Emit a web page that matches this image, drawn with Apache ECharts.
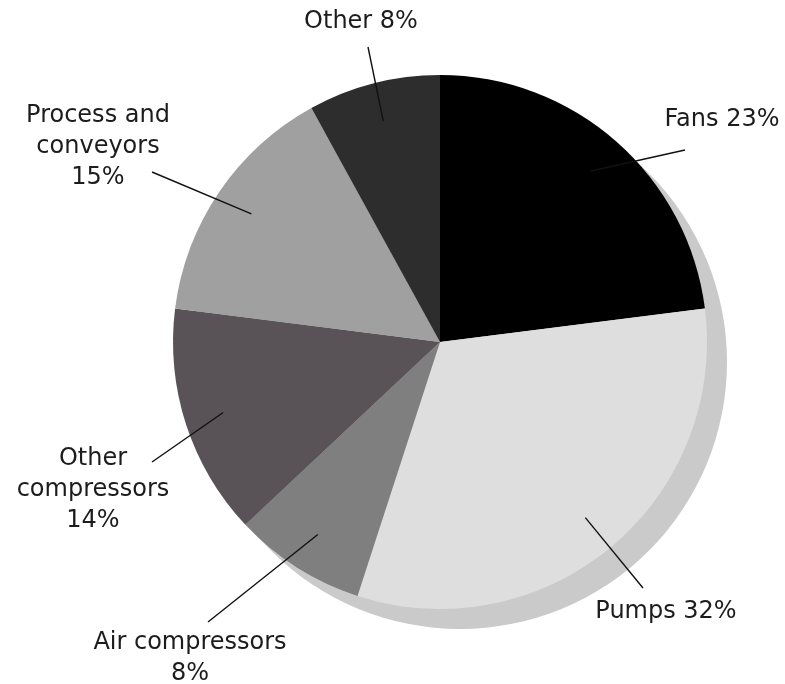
<!DOCTYPE html>
<html>
<head>
<meta charset="utf-8">
<script src="https://cdn.jsdelivr.net/npm/echarts@6/dist/echarts.min.js"></script>
<style>
  html, body { margin: 0; padding: 0; background: #fff; }
  #chart { width: 785px; height: 684px; }
</style>
</head>
<body>
<div id="chart"></div>
<script>
// motor energy use by end use, clockwise from 12 o'clock
const categories = ['Fans', 'Pumps', 'Air compressors', 'Other\ncompressors', 'Process and\nconveyors', 'Other'];
const shares = [23, 32, 8, 14, 15, 8];

// look of the slices (kept apart from the data)
const sliceColors = ['#000000', '#dedede', '#7f7f7f', '#595357', '#a0a0a0', '#2d2d2d'];

// label placement: centre of the text block, whether the % wraps,
// and where the leader line stops relative to that centre
const labelSpots = [
    { x: 722, y: 120, newLine: false, tip: [-37, 30] },
    { x: 666, y: 612, newLine: false, tip: [-23, -24] },
    { x: 190, y: 658, newLine: true, tip: [18, -36] },
    { x: 93, y: 490, newLine: true, tip: [59, -28] },
    { x: 98, y: 147, newLine: true, tip: [54, 25] },
    { x: 361, y: 22, newLine: false, tip: [7, 25] }
];

const pieCenter = [440, 342];
const pieRadius = 267;

const chart = echarts.init(document.getElementById('chart'), null, { renderer: 'canvas' });

const sliceData = categories.map((name, i) => ({
    name: name,
    value: shares[i],
    itemStyle: { color: sliceColors[i] }
}));

chart.setOption({
    animation: false,
    backgroundColor: '#ffffff',
    series: [
        {
            // drop shadow behind the pie
            name: 'shadow',
            type: 'pie',
            silent: true,
            z: 1,
            center: [pieCenter[0] + 20, pieCenter[1] + 20],
            radius: pieRadius,
            label: { show: false },
            labelLine: { show: false },
            itemStyle: { color: '#cacaca', borderWidth: 0 },
            data: [{ name: 'shadow', value: 1 }]
        },
        {
            name: 'Motor use',
            type: 'pie',
            silent: true,
            z: 2,
            center: pieCenter,
            radius: pieRadius,
            startAngle: 90,
            clockwise: true,
            label: { show: false },
            labelLine: { show: false },
            itemStyle: { borderWidth: 0 },
            data: sliceData
        },
        {
            // invisible inner pie: carries the labels so leader lines start inside the slices
            name: 'labels',
            type: 'pie',
            silent: true,
            z: 3,
            center: pieCenter,
            radius: 228,
            startAngle: 90,
            clockwise: true,
            avoidLabelOverlap: false,
            itemStyle: { color: 'rgba(0,0,0,0)', borderWidth: 0 },
            label: {
                show: true,
                position: 'outside',
                fontFamily: 'DejaVu Sans',
                fontSize: 24,
                lineHeight: 31,
                color: '#1c1c1c',
                align: 'center',
                formatter: p => p.name + (labelSpots[p.dataIndex].newLine ? '\n' : ' ') + p.value + '%'
            },
            labelLine: {
                show: true,
                length: 10,
                length2: 0,
                smooth: false,
                lineStyle: { color: '#111111', width: 1.4 }
            },
            labelLayout: p => {
                const s = labelSpots[p.dataIndex];
                const start = p.labelLinePoints[0];
                return {
                    x: s.x,
                    y: s.y,
                    align: 'center',
                    verticalAlign: 'middle',
                    labelLinePoints: [start, [s.x + s.tip[0], s.y + s.tip[1]]]
                };
            },
            data: categories.map((name, i) => ({ name: name, value: shares[i] }))
        }
    ]
});
</script>
</body>
</html>
